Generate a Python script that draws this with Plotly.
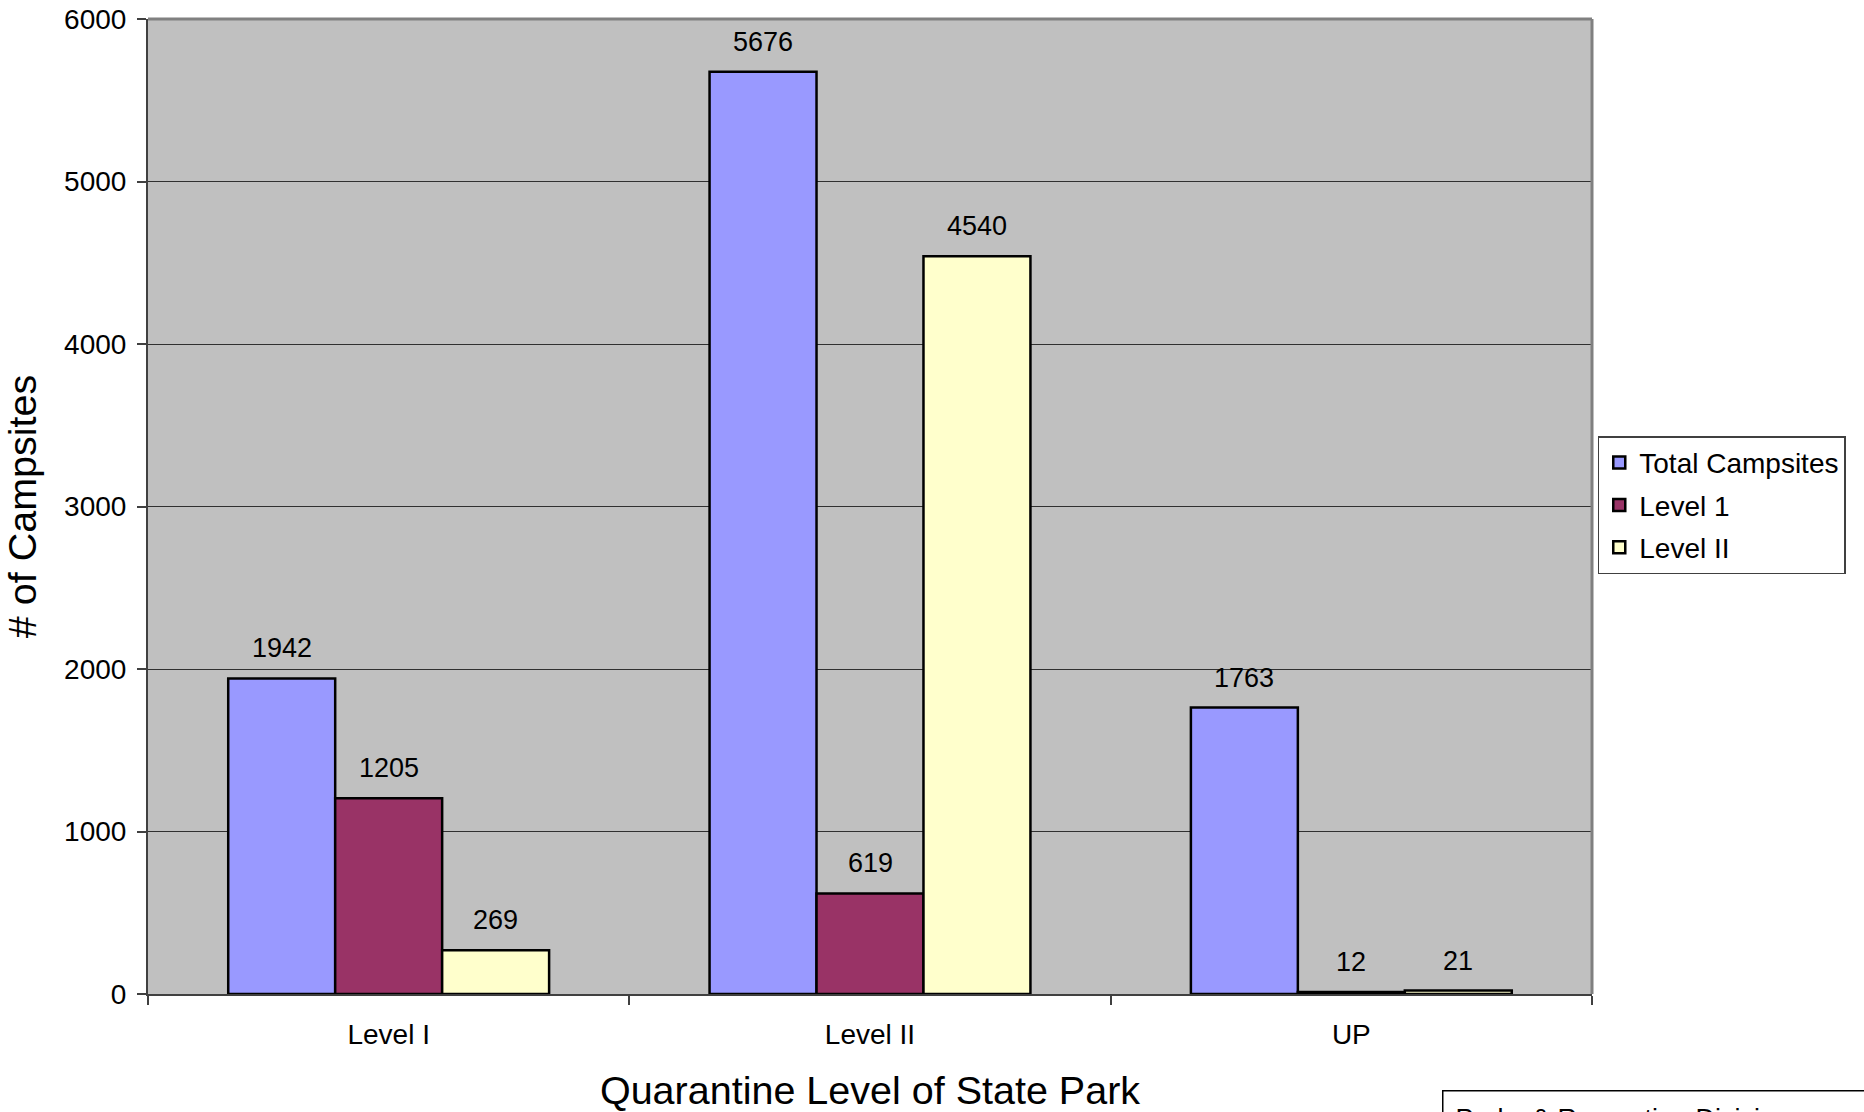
import plotly.graph_objects as go

# Campsite counts by park quarantine level
categories = ["Level I", "Level II", "UP"]
total_campsites = [1942, 5676, 1763]
level_1 = [1205, 619, 12]
level_2 = [269, 4540, 21]

series_names = ["Total Campsites", "Level 1", "Level II"]
series_colors = ["#9999FF", "#993366", "#FFFFCC"]
series_values = [total_campsites, level_1, level_2]

FONT = "Liberation Sans, Arial, sans-serif"

W, H = 1864, 1112
M_L, M_R, M_T, M_B = 148, 272, 19, 118
plot_w = W - M_L - M_R
cat_w = plot_w / len(categories)
bar_w = cat_w * (2 / 3) / len(series_names)

fig = go.Figure()
for i, (name, vals, color) in enumerate(zip(series_names, series_values, series_colors)):
    fig.add_trace(go.Bar(
        name=name,
        legendgroup=name,
        x=categories,
        y=vals,
        marker=dict(color=color, line=dict(color="black", width=2.5)),
        cliponaxis=False,
    ))
    # value labels above each bar
    for cat, v in zip(categories, vals):
        fig.add_annotation(
            x=cat, y=v, xref="x", yref="y",
            xshift=(i - 1) * bar_w,
            yshift=30,
            text=str(v),
            showarrow=False,
            font=dict(family=FONT, size=27, color="black"),
        )

fig.update_layout(
    width=W,
    height=H,
    margin=dict(l=M_L, r=M_R, t=M_T, b=M_B),
    paper_bgcolor="white",
    plot_bgcolor="#C0C0C0",
    barmode="group",
    bargap=1/3,
    bargroupgap=0,
    font=dict(family=FONT, color="black"),
    showlegend=True,
    legend=dict(
        x=1.004, xanchor="left",
        y=0.572, yanchor="top",
        bgcolor="white",
        bordercolor="#404040",
        borderwidth=1.5,
        font=dict(family=FONT, size=28, color="black"),
        tracegroupgap=3,
    ),
    xaxis=dict(
        automargin=False,
        title=dict(text="Quarantine Level of State Park",
                   font=dict(family=FONT, size=39.5, color="black"), standoff=44),
        tickfont=dict(family=FONT, size=28, color="black"),
        ticklabelstandoff=14,
        tickson="boundaries",
        ticks="outside",
        ticklen=9,
        tickwidth=2,
        tickcolor="#404040",
        showline=True,
        linecolor="#404040",
        linewidth=2,
        showgrid=False,
    ),
    yaxis=dict(
        automargin=False,
        title=dict(text="# of Campsites",
                   font=dict(family=FONT, size=39.5, color="black"), standoff=16),
        range=[0, 6000],
        dtick=1000,
        tickfont=dict(family=FONT, size=28, color="black"),
        ticklabelstandoff=5,
        ticks="outside",
        ticklen=9,
        tickwidth=1.5,
        tickcolor="#404040",
        showline=True,
        linecolor="#404040",
        linewidth=2,
        showgrid=True,
        gridcolor="#303030",
        gridwidth=1.2,
        zeroline=False,
    ),
)

# grey frame along the top and right of the plotting area
fig.add_shape(type="line", xref="paper", yref="paper", x0=0, x1=1, y0=1, y1=1,
              line=dict(color="#808080", width=3), layer="above")
fig.add_shape(type="line", xref="paper", yref="paper", x0=1, x1=1, y0=0, y1=1,
              line=dict(color="#808080", width=3), layer="above")

# source box in the lower right corner
fig.add_annotation(
    xref="paper", yref="paper",
    x=(1442 - M_L) / plot_w, y=-(1090 - (H - M_B)) / (H - M_T - M_B),
    xanchor="left", yanchor="top",
    text="Parks & Recreation Division",
    showarrow=False,
    align="left",
    width=440,
    font=dict(family=FONT, size=27, color="black"),
    bordercolor="black", borderwidth=1.5, borderpad=12,
    bgcolor="white",
)

fig.write_html("out.html")
